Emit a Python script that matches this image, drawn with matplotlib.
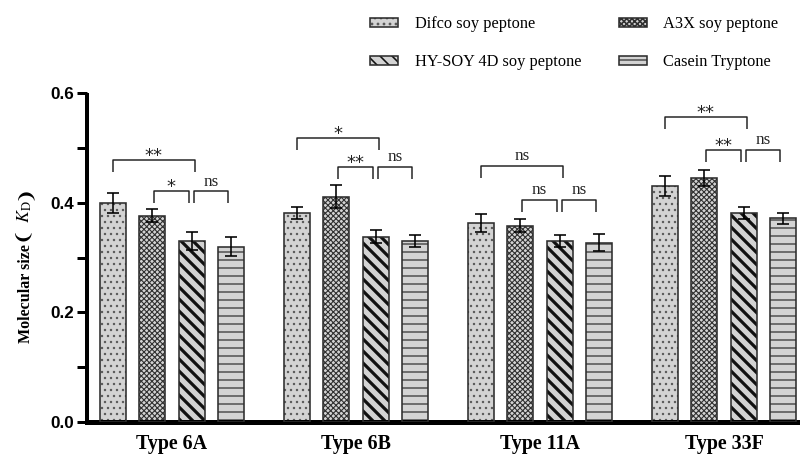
import matplotlib
matplotlib.use("Agg")
import matplotlib.pyplot as plt
import numpy as np
from matplotlib.patches import Patch
from matplotlib.ticker import MultipleLocator

plt.rcParams["mathtext.fontset"] = "stix"

# values
groups = ["Type 6A", "Type 6B", "Type 11A", "Type 33F"]
series = ["Difco soy peptone", "A3X soy peptone",
          "HY-SOY 4D soy peptone", "Casein Tryptone"]
difco = [0.400, 0.381, 0.363, 0.430]
a3x = [0.376, 0.411, 0.358, 0.445]
hysoy = [0.330, 0.338, 0.330, 0.381]
casein = [0.320, 0.330, 0.327, 0.372]
difco_err = [0.018, 0.011, 0.017, 0.018]
a3x_err = [0.012, 0.021, 0.012, 0.015]
hysoy_err = [0.017, 0.012, 0.011, 0.011]
casein_err = [0.018, 0.011, 0.016, 0.010]

# significance brackets: (group, bar i, bar j, height, label)
brackets = [
    (0, 0, 2, 0.478, "**"), (0, 1, 2, 0.421, "*"), (0, 2, 3, 0.421, "ns"),
    (1, 0, 2, 0.518, "*"), (1, 1, 2, 0.465, "**"), (1, 2, 3, 0.465, "ns"),
    (2, 0, 2, 0.467, "ns"), (2, 1, 2, 0.405, "ns"), (2, 2, 3, 0.405, "ns"),
    (3, 0, 2, 0.556, "**"), (3, 1, 2, 0.496, "**"), (3, 2, 3, 0.496, "ns"),
]

values = [difco, a3x, hysoy, casein]
errors = [difco_err, a3x_err, hysoy_err, casein_err]
# hatch, hatch colour, hatch linewidth
styles = [("....", "#5a5a5a", 0.6),
          ("xxxxxxxxx", "#303030", 0.55),
          ("\\\\\\\\", "#111111", 1.6),
          ("---", "#555555", 0.8)]
fill = "#d3d3d3"
outline = "#2e2e2e"

W, H = 800, 463
fig = plt.figure(figsize=(W / 144, H / 144), dpi=144)
ax = fig.add_axes([87 / W, 41 / H, 713 / W, 329 / H])

x = np.arange(len(groups))
step = 0.2147
width = 0.139
offsets = (np.arange(4) - 1.5) * step

handles = []
for k in range(4):
    hatch, hcol, hlw = styles[k]
    plt.rcParams["hatch.linewidth"] = hlw
    bars = ax.bar(x + offsets[k], values[k], width, color=fill,
                  edgecolor=hcol, hatch=hatch, linewidth=0, zorder=2)
    for b in bars:
        if hasattr(b, "set_hatch_linewidth"):
            b.set_hatch_linewidth(hlw)
    ax.bar(x + offsets[k], values[k], width, facecolor="none",
           edgecolor=outline, linewidth=0.8, zorder=3)
    ax.errorbar(x + offsets[k], values[k], yerr=errors[k], fmt="none",
                ecolor="black", elinewidth=0.8, capsize=3.2,
                capthick=0.8, zorder=4)
    p1 = Patch(facecolor=fill, edgecolor=hcol, hatch=hatch, linewidth=0)
    if hasattr(p1, "set_hatch_linewidth"):
        p1.set_hatch_linewidth(hlw)
    p2 = Patch(facecolor="none", edgecolor=outline, linewidth=0.8)
    handles.append((p1, p2))

leg_h = 0.022
for g, i, j, h, lab in brackets:
    if j - i == 1:
        x0 = x[g] + offsets[i] + 0.01
        x1 = x[g] + offsets[j] - 0.016
    else:
        x0 = x[g] + offsets[i]
        x1 = x[g] + offsets[j] + 0.016
    ax.plot([x0, x0, x1, x1], [h - leg_h, h, h, h - leg_h],
            color="#222222", lw=0.75, zorder=4, solid_capstyle="butt")
    if lab == "ns":
        ax.text((x0 + x1) / 2, h + 0.003, lab, ha="center", va="bottom",
                fontsize=8.5, family="Liberation Serif", color="#222222")
    else:
        ax.text((x0 + x1) / 2, h - 0.009, lab, ha="center", va="bottom",
                fontsize=9, family="DejaVu Sans", color="#222222")

ax.set_xlim(-0.462, 3.413)
ax.set_ylim(0, 0.6)
ax.set_xticks(x)
ax.set_xticklabels(groups, fontsize=10, fontweight="bold",
                   family="Liberation Serif")
ax.tick_params(axis="x", length=0, pad=6)
ax.yaxis.set_major_locator(MultipleLocator(0.2))
ax.yaxis.set_minor_locator(MultipleLocator(0.1))
ax.set_yticks([0, 0.2, 0.4, 0.6])
ax.set_yticklabels(["0.0", "0.2", "0.4", "0.6"])
ax.tick_params(axis="y", which="both", length=5, width=1.5, pad=1.5)
for t in ax.get_yticklabels():
    t.set_fontsize(8.5)
    t.set_fontweight("bold")
    t.set_family("Liberation Sans")

for s in ["top", "right"]:
    ax.spines[s].set_visible(False)
ax.spines["left"].set_linewidth(2)
ax.spines["bottom"].set_linewidth(2.5)
ax.spines["left"].set_capstyle("butt")

order = [0, 2, 1, 3]
fig.legend([handles[k] for k in order], [series[k] for k in order],
           loc="upper left", bbox_to_anchor=(358 / W, 1 - 4 / H), ncol=2,
           frameon=False, prop={"family": "Liberation Serif", "size": 8.2},
           handlelength=1.7, handleheight=0.45, handletextpad=1.0,
           columnspacing=2.3, labelspacing=1.35, borderaxespad=0.35)

# y label built from pieces so the heavy brackets can be drawn
serif_b = dict(family="Liberation Serif", fontweight="bold", fontsize=8)
paren = dict(family="DejaVu Sans", fontweight="bold", fontsize=9)
pieces = [("Molecular size", serif_b), ("❨ ", paren),
          ("$K_\\mathrm{D}$", dict(fontsize=9)), ("❩", paren)]
base_x = 30 / W
fig.canvas.draw()
r = fig.canvas.get_renderer()
txts = [fig.text(base_x, 0, s, rotation=90, rotation_mode="anchor",
                 ha="left", va="baseline", **kw) for s, kw in pieces]
lens = [t.get_window_extent(r).height for t in txts]
yy = H - 264 - sum(lens) / 2
for t, L in zip(txts, lens):
    t.set_position((base_x, yy / H))
    yy += L

fig.savefig("out.png", dpi=144, facecolor="white")
